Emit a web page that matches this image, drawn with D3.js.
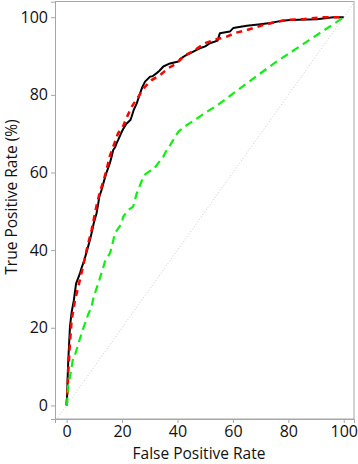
<!DOCTYPE html>
<html><head><meta charset="utf-8">
<script src="https://cdn.jsdelivr.net/npm/d3@7"></script>
<style>html,body{margin:0;padding:0;background:#fff;}svg{display:block;}</style>
</head><body>
<svg id="c" width="358" height="464"></svg>
<script>
const xTicks = [0, 20, 40, 60, 80, 100];
const yTicks = [0, 20, 40, 60, 80, 100];
const xTitle = "False Positive Rate";
const yTitle = "True Positive Rate (%)";

const blackFpr = [0,0.2,0.4,0.6,0.9,1.2,1.8,2.6,3.4,4.8,5.2,6.4,7.4,8.4,9.2,9.8,10.8,11.4,11.8,12.6,13.6,14.4,15.6,16.2,16.8,17.5,18.0,18.6,19.9,20.4,21.5,23,23.5,24.2,25.3,26.5,27.3,28.3,30.1,31,32.5,33.5,34.9,37.3,40.3,41,43.3,44.5,46.9,48.1,50,51.7,53,54.5,55.3,58.9,60.1,65,70,73.4,77,80.6,90.3,96.2,100];
const blackTpr = [0,3,8,11.7,16,20.3,24,27.1,31.4,34,35,37.5,40,42.6,45,47,49.5,52,53.8,55.5,58.1,60,62.4,64,65.8,66.5,67.5,68.4,70.5,71.2,72.5,73.5,74.5,76.1,77.8,80.4,82,83.4,84.7,84.8,85.6,86.2,87.3,88.1,88.6,89.3,90.3,90.7,91.6,92,92.5,93.3,93.6,94,95.9,96.3,97.2,97.8,98.2,98.5,99,99.3,99.5,100,100];

const redFpr = [0,0.3,0.7,1.2,1.8,3.0,4.5,6.0,7.2,9.0,10.8,12.0,13.5,15,15.6,17.4,18.5,20.4,21.7,23.5,25.9,27.7,30.7,33.7,36.7,39.7,42.7,45.7,49.9,53.5,57.8,61,65,70,74,79.4,85.4,92.6,100];
const redTpr = [0,4,10,16,22,27,31.5,36,40,45.2,51.5,55,58.3,62.5,64.3,67.8,70,72,74.2,77,79.5,81.7,83.8,85.1,86.9,88.1,90.2,91.3,93.3,94.2,95,96,96.7,97.8,98.5,99.3,99.5,100,100];

const greenFpr = [0,0.2,0.6,1.2,1.8,2.4,3,4.8,6.6,7.8,9,9.6,10.2,11.4,13.2,13.8,15.6,16.2,17.4,19.9,20.4,22.2,24,25.3,27.7,28.3,30.1,31.3,34.9,36.1,37.3,40.3,43.3,55.3,74.6,100];
const greenTpr = [0,1,5.7,7.4,9.9,12.5,13,17.2,21.1,23.5,25.4,27.5,28.9,31.4,35.5,37,39.2,40.5,44.3,46.9,48.6,50.3,51.2,54.6,58.9,59.5,60.4,60.8,64.1,65.8,67,70.5,72.2,77.8,88,100];

const chanceLine = [-5, 110];

const svg = d3.select("#c");
const x = d3.scaleLinear().domain([-4.2, 103.7]).range([55, 354]);
const y = d3.scaleLinear().domain([-3.5, 104]).range([419, 1.7]);
const font = "'Open Sans', sans-serif";

svg.append("defs").append("clipPath").attr("id","clip")
  .append("rect").attr("x",55).attr("y",1.7).attr("width",299).attr("height",417.3);

// frame
svg.append("rect").attr("x",55.5).attr("y",1.5).attr("width",298.5).attr("height",417.5)
  .attr("fill","none").attr("stroke","#a6a6a6").attr("stroke-width",1);

// axes
const xAxis = d3.axisBottom(x).tickValues(xTicks).tickSize(4).tickPadding(3).tickFormat(d3.format("d"));
const yAxis = d3.axisLeft(y).tickValues(yTicks).tickSize(4).tickPadding(3).tickFormat(d3.format("d"));
const gx = svg.append("g").attr("transform","translate(0,419)").call(xAxis);
const gy = svg.append("g").attr("transform","translate(55,0)").call(yAxis);
[gx, gy].forEach(g => {
  g.select(".domain").attr("stroke","#a6a6a6");
  g.selectAll(".tick line").attr("stroke","#a6a6a6");
  g.selectAll(".tick text").attr("fill","#111").style("font-family",font).style("font-size","16px");
});

const plot = svg.append("g").attr("clip-path","url(#clip)");
const line = d3.line().x(d => x(d[0])).y(d => y(d[1]));

plot.append("path").datum(chanceLine.map(v => [v, v])).attr("d", line)
  .attr("fill","none").attr("stroke","#c8c8c8").attr("stroke-width",1).attr("stroke-dasharray","1,2");

plot.append("path").datum(blackFpr.map((v,i) => [v, blackTpr[i]])).attr("d", line)
  .attr("fill","none").attr("stroke","#000").attr("stroke-width",2).attr("stroke-linejoin","round");

plot.append("path").datum(redFpr.map((v,i) => [v, redTpr[i]])).attr("d", line)
  .attr("fill","none").attr("stroke","#ff0000").attr("stroke-width",2.5).attr("stroke-dasharray","6,5");

plot.append("path").datum(greenFpr.map((v,i) => [v, greenTpr[i]])).attr("d", line)
  .attr("fill","none").attr("stroke","#11ee11").attr("stroke-width",2.2).attr("stroke-dasharray","8,5");

svg.append("text").attr("x",199).attr("y",459).attr("text-anchor","middle")
  .style("font-family",font).style("font-size","15.5px").attr("fill","#111").text(xTitle);
svg.append("text").attr("transform","translate(17,197) rotate(-90)").attr("text-anchor","middle")
  .style("font-family",font).style("font-size","15.5px").attr("fill","#111").text(yTitle);
</script>
</body></html>
